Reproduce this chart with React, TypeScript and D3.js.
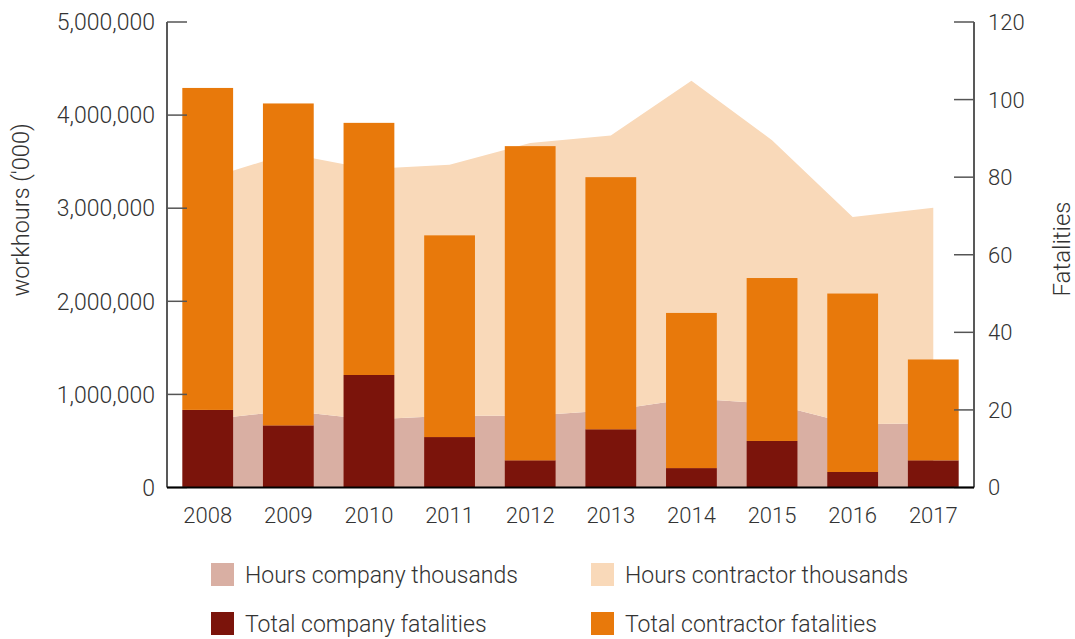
import React, { useEffect, useRef } from 'react';
import * as d3 from 'd3';

const width: number = 1075;
const height: number = 639;

// data
const years: string[] = ['2008', '2009', '2010', '2011', '2012', '2013', '2014', '2015', '2016', '2017'];
const hoursCompany: number[] = [730000, 825000, 730000, 770000, 770000, 830000, 955000, 900000, 680000, 690000];
const hoursContractor: number[] = [2590000, 2762000, 2690000, 2697000, 2930000, 2950000, 3415000, 2830000, 2225000, 2315000];
const fatalCompany: number[] = [20, 16, 29, 13, 7, 15, 5, 12, 4, 7];
const fatalContractor: number[] = [83, 83, 65, 52, 81, 65, 40, 42, 46, 26];
const hoursTicks: number[] = [0, 1000000, 2000000, 3000000, 4000000, 5000000];
const fatalTicks: number[] = [0, 20, 40, 60, 80, 100, 120];

const colors = {
  hoursCompany: '#d9afa3',
  hoursContractor: '#f9d9b9',
  fatalCompany: '#7b140b',
  fatalContractor: '#e8790b',
};

const fontFamily = 'Roboto, sans-serif';
const textColor = '#333';

export default function App() {
  const ref = useRef<SVGSVGElement>(null);

  useEffect(() => {
    document.body.style.margin = '0';
    const svg: any = d3.select(ref.current);
    svg.selectAll('*').remove();

    const left = 167, right = 974, top = 22, bottom = 487.5;

    var xScale: any = d3.scaleBand()
                        .domain(years)
                        .range([left, right])
                        .paddingInner(0.37)
                        .paddingOuter(0.19);

    var yHours: any = d3.scaleLinear().domain([0, 5000000]).range([bottom, top]);
    var yFatal: any = d3.scaleLinear().domain([0, 120]).range([bottom, top]);

    const cx = (d: string) => xScale(d) + xScale.bandwidth() / 2;

    // stacked areas for hours
    const rows = years.map((y, i) => ({ year: y, company: hoursCompany[i], contractor: hoursContractor[i] }));
    const stack = d3.stack<any>().keys(['company', 'contractor'])(rows);

    const area: any = d3.area<any>()
                        .x((d: any) => cx(d.data.year))
                        .y0((d: any) => yHours(d[0]))
                        .y1((d: any) => yHours(d[1]));

    svg.append('g')
       .selectAll('path')
       .data(stack)
       .enter()
       .append('path')
       .attr('d', area)
       .attr('fill', (d: any) => d.key === 'company' ? colors.hoursCompany : colors.hoursContractor);

    // stacked bars for fatalities
    const bars = svg.append('g');
    bars.selectAll('.company')
        .data(years)
        .enter()
        .append('rect')
        .attr('x', (d: string) => xScale(d))
        .attr('width', xScale.bandwidth())
        .attr('y', (d: string, i: number) => yFatal(fatalCompany[i]))
        .attr('height', (d: string, i: number) => bottom - yFatal(fatalCompany[i]))
        .attr('fill', colors.fatalCompany);

    bars.selectAll('.contractor')
        .data(years)
        .enter()
        .append('rect')
        .attr('x', (d: string) => xScale(d))
        .attr('width', xScale.bandwidth())
        .attr('y', (d: string, i: number) => yFatal(fatalCompany[i] + fatalContractor[i]))
        .attr('height', (d: string, i: number) => yFatal(fatalCompany[i]) - yFatal(fatalCompany[i] + fatalContractor[i]))
        .attr('fill', colors.fatalContractor);

    // axes
    const axes = svg.append('g');
    axes.append('line')
        .attr('x1', left).attr('x2', left).attr('y1', top).attr('y2', bottom)
        .attr('stroke', '#222').attr('stroke-width', 1.5);
    axes.append('line')
        .attr('x1', right).attr('x2', right).attr('y1', top).attr('y2', bottom)
        .attr('stroke', '#222').attr('stroke-width', 1.5);

    axes.selectAll('.ltick')
        .data(hoursTicks)
        .enter()
        .append('line')
        .attr('x1', left).attr('x2', left + 20)
        .attr('y1', (d: number) => yHours(d)).attr('y2', (d: number) => yHours(d))
        .attr('stroke', '#555').attr('stroke-width', 1.5);

    axes.selectAll('.rtick')
        .data(fatalTicks)
        .enter()
        .append('line')
        .attr('x1', right - 20).attr('x2', right)
        .attr('y1', (d: number) => yFatal(d)).attr('y2', (d: number) => yFatal(d))
        .attr('stroke', '#555').attr('stroke-width', 1.5);

    axes.append('line')
        .attr('x1', left).attr('x2', right).attr('y1', bottom).attr('y2', bottom)
        .attr('stroke', '#000').attr('stroke-width', 2);

    const fmt = d3.format(',');
    axes.selectAll('.llabel')
        .data(hoursTicks)
        .enter()
        .append('text')
        .attr('x', 155)
        .attr('y', (d: number) => yHours(d))
        .attr('dy', '0.36em')
        .attr('text-anchor', 'end')
        .attr('font-size', 23)
        .text((d: number) => fmt(d));

    axes.selectAll('.rlabel')
        .data(fatalTicks)
        .enter()
        .append('text')
        .attr('x', 988)
        .attr('y', (d: number) => yFatal(d))
        .attr('dy', '0.36em')
        .text((d: number) => d);

    axes.selectAll('.xlabel')
        .data(years)
        .enter()
        .append('text')
        .attr('x', (d: string) => cx(d))
        .attr('y', 523)
        .attr('text-anchor', 'middle')
        .text((d: string) => d);

    axes.append('text')
        .attr('transform', 'translate(29,210) rotate(-90)')
        .attr('text-anchor', 'middle')
        .attr('font-size', 23.5)
        .text("workhours ('000)");

    axes.append('text')
        .attr('transform', 'translate(1070,249) rotate(-90)')
        .attr('text-anchor', 'middle')
        .attr('font-size', 24)
        .text('Fatalities');

    axes.selectAll('text')
        .attr('font-family', fontFamily)
        .attr('font-weight', 300)
        .attr('fill', textColor)
        .each(function (this: any) {
          if (!this.getAttribute('font-size')) this.setAttribute('font-size', '22');
        });

    // legend
    const legendItems = [
      { label: 'Hours company thousands', color: colors.hoursCompany, x: 211, y: 563 },
      { label: 'Hours contractor thousands', color: colors.hoursContractor, x: 591, y: 563 },
      { label: 'Total company fatalities', color: colors.fatalCompany, x: 211, y: 612 },
      { label: 'Total contractor fatalities', color: colors.fatalContractor, x: 591, y: 612 },
    ];
    const lg = svg.append('g')
                  .selectAll('g')
                  .data(legendItems)
                  .enter()
                  .append('g')
                  .attr('transform', (d: any) => `translate(${d.x},${d.y})`);
    lg.append('rect').attr('width', 23).attr('height', 23).attr('fill', (d: any) => d.color);
    lg.append('text')
      .attr('x', 34)
      .attr('y', 11.5)
      .attr('dy', '0.36em')
      .attr('font-family', fontFamily)
      .attr('font-weight', 300)
      .attr('font-size', 23)
      .attr('fill', textColor)
      .text((d: any) => d.label);
  }, []);

  return <svg ref={ref} width={width} height={height} style={{ display: 'block' }} />;
}
